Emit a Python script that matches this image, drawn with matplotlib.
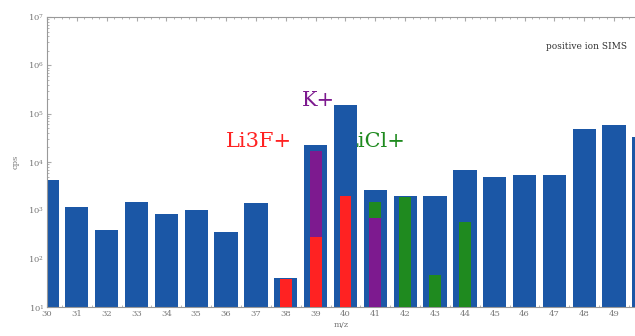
import matplotlib.pyplot as plt
from matplotlib.ticker import LogLocator, MultipleLocator, NullFormatter

# total counts per mass
masses = list(range(30, 51))
total = [4200, 1200, 400, 1480, 830, 1000, 355, 1400, 40, 22000, 150000,
         2700, 2000, 1950, 7000, 4800, 5300, 5500, 48000, 58000, 33000]

# partial contributions
licl_m = [41, 42, 43, 44]
licl_v = [1500, 1900, 45, 570]
k_m = [39, 41]
k_v = [17000, 700]
li3f_m = [38, 39, 40]
li3f_v = [38, 280, 2000]

tick_m = list(range(30, 50))

blue = '#1b57a6'
red = '#ff2222'
purple = '#7d1a8f'
green = '#1f8a1f'
grey = '#777777'

fig = plt.figure(figsize=(6.35, 3.36), dpi=100)
ax = fig.add_axes([0.074, 0.0863, 0.926, 0.863])

ax.bar(masses, total, width=0.78, color=blue, zorder=2)
ax.bar(licl_m, licl_v, width=0.4, color=green, zorder=3)
ax.bar(k_m, k_v, width=0.4, color=purple, zorder=4)
ax.bar(li3f_m, li3f_v, width=0.4, color=red, zorder=5)

ax.set_yscale('log')
ax.set_ylim(10, 1e7)
ax.set_xlim(30, 49.7)

ax.text(37.1, 2.6e4, 'Li3F+', color=red, fontsize=15, family='DejaVu Serif',
        ha='center', va='center', zorder=1)
ax.text(39.1, 1.9e5, 'K+', color=purple, fontsize=15, family='DejaVu Serif',
        ha='center', va='center', zorder=1)
ax.text(41.0, 2.6e4, 'LiCl+', color=green, fontsize=15, family='DejaVu Serif',
        ha='center', va='center', zorder=1)
ax.text(0.986, 0.897, 'positive ion SIMS', transform=ax.transAxes,
        fontsize=6.5, family='DejaVu Serif', color='#333333', ha='right', va='center')

ax.set_xticks(tick_m)
ax.set_xticklabels([str(m) for m in tick_m], family='DejaVu Serif', fontsize=6, color=grey)
ax.xaxis.set_minor_locator(MultipleLocator(0.25))
ax.yaxis.set_major_locator(LogLocator(base=10, numticks=10))
ax.yaxis.set_minor_locator(LogLocator(base=10, subs=range(2, 10), numticks=10))
ax.yaxis.set_minor_formatter(NullFormatter())
for lab in ax.get_yticklabels():
    lab.set_family('DejaVu Serif')
ax.tick_params(axis='y', labelsize=6, labelcolor=grey)
ax.tick_params(which='both', direction='in', top=True, right=False, color='#aaaaaa',
               pad=2)
ax.tick_params(which='major', length=3)
ax.tick_params(which='minor', length=1.5)

for side in ['left', 'top', 'bottom']:
    ax.spines[side].set_color('#999999')
    ax.spines[side].set_linewidth(0.8)
ax.spines['right'].set_visible(False)

ax.set_xlabel('m/z', family='DejaVu Serif', fontsize=6, color=grey, labelpad=2)
ax.set_ylabel('cps', family='DejaVu Serif', fontsize=6, color=grey, labelpad=6)

fig.savefig('out.png', dpi=100)
